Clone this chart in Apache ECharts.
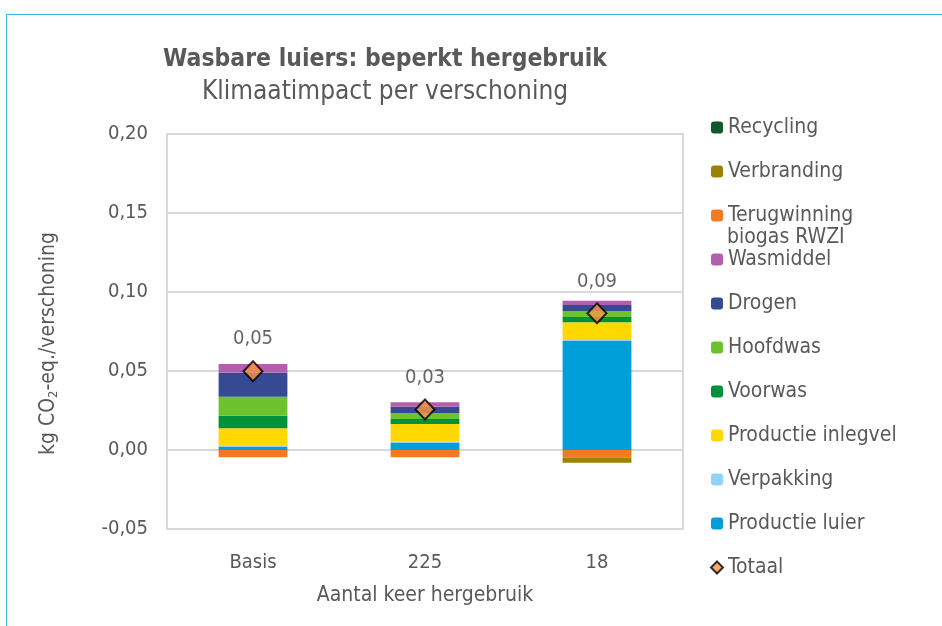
<!DOCTYPE html>
<html>
<head>
<meta charset="utf-8">
<script src="https://cdn.jsdelivr.net/npm/echarts@6/dist/echarts.min.js"></script>
<style>
  html, body { margin: 0; padding: 0; background: #fff; }
  #chart { width: 942px; height: 626px; position: relative; }
  .frame {
    position: absolute; left: 6px; top: 14px; right: 0; bottom: 0;
    border-top: 1.5px solid #3fb2e2; border-left: 1.5px solid #3fb2e2;
    pointer-events: none;
  }
</style>
</head>
<body>
<div id="chart"></div>
<div class="frame"></div>
<script>
// categories (aantal keer hergebruik)
var categories = ['Basis', '225', '18'];

// stacked contributions, kg CO2-eq. per verschoning
var productieLuier = [0.0022, 0.0045, 0.0690];
var verpakking = [0.0005, 0.0008, 0.0006];
var productieInlegvel = [0.0110, 0.0112, 0.0112];
var voorwas = [0.0080, 0.0031, 0.0034];
var hoofdwas = [0.0120, 0.0036, 0.0038];
var drogen = [0.0152, 0.0042, 0.0038];
var wasmiddel = [0.0055, 0.0028, 0.0027];
var terugwinning = [-0.0046, -0.0046, -0.0048];
var verbranding = [0, 0, -0.0032];
var recycling = [0, 0, 0];
var totaal = [0.0498, 0.0256, 0.0865];

var yTicks = { min: -0.05, max: 0.2, interval: 0.05 };

var textColor = '#595959';
var fontFam = '"DejaVu Sans Condensed", "DejaVu Sans", sans-serif';

var chart = echarts.init(document.getElementById('chart'));

function bar(name, data, color) {
  return {
    name: name,
    type: 'bar',
    stack: 'total',
    data: data,
    barWidth: '40%',
    itemStyle: { color: color },
    emphasis: { disabled: true }
  };
}

var option = {
  animation: false,
  textStyle: { fontFamily: fontFam, color: textColor },
  title: {
    text: 'Wasbare luiers: beperkt hergebruik',
    subtext: 'Klimaatimpact per verschoning',
    left: 380,
    textAlign: 'center',
    top: 42,
    itemGap: 7,
    textStyle: { fontFamily: fontFam, fontSize: 24.5, fontWeight: 'bold', color: textColor },
    subtextStyle: { fontFamily: fontFam, fontSize: 26, color: textColor }
  },
  legend: {
    orient: 'vertical',
    left: 705,
    top: 112,
    itemWidth: 12,
    itemHeight: 12,
    itemGap: 23,
    data: ['Recycling', 'Verbranding', 'Terugwinning biogas RWZI', 'Wasmiddel', 'Drogen',
      'Hoofdwas', 'Voorwas', 'Productie inlegvel', 'Verpakking', 'Productie luier', 'Totaal'],
    formatter: function (n) {
      return n === 'Terugwinning biogas RWZI' ? 'Terugwinning' : n;
    },
    textStyle: { fontFamily: fontFam, fontSize: 21, color: textColor, height: 20 }
  },
  // second line of the wrapped legend entry
  graphic: [{
    type: 'text',
    left: 727,
    top: 227,
    style: { text: 'biogas RWZI', font: '21px ' + fontFam, fill: textColor }
  }],
  grid: {
    left: 167, right: 259, top: 134, bottom: 97,
    show: true, borderColor: '#d9d9d9', borderWidth: 2
  },
  xAxis: {
    type: 'category',
    data: categories,
    name: 'Aantal keer hergebruik',
    nameLocation: 'middle',
    nameGap: 56,
    nameTextStyle: { fontFamily: fontFam, fontSize: 21, color: textColor },
    axisLine: { show: false },
    axisTick: { show: false },
    axisLabel: { margin: 24, fontFamily: fontFam, fontSize: 20, color: textColor }
  },
  yAxis: {
    type: 'value',
    min: yTicks.min,
    max: yTicks.max,
    interval: yTicks.interval,
    name: 'kg CO{sub|2}-eq./verschoning',
    nameLocation: 'middle',
    nameGap: 107,
    nameTextStyle: {
      fontFamily: fontFam, fontSize: 21, color: textColor,
      padding: [0, 24, 0, 0],
      rich: { sub: { fontFamily: fontFam, fontSize: 13, color: textColor, verticalAlign: 'bottom', padding: [10, 0, 0, 0] } }
    },
    axisLine: { show: false },
    axisTick: { show: false },
    splitLine: { lineStyle: { color: '#d9d9d9', width: 2 } },
    axisLabel: {
      margin: 19, fontFamily: fontFam, fontSize: 20, color: textColor,
      formatter: function (v) { return v.toFixed(2).replace('.', ','); }
    }
  },
  series: [
    bar('Productie luier', productieLuier, '#009fda'),
    bar('Verpakking', verpakking, '#8fd4f8'),
    bar('Productie inlegvel', productieInlegvel, '#ffd800'),
    bar('Voorwas', voorwas, '#00923a'),
    bar('Hoofdwas', hoofdwas, '#6dc32e'),
    bar('Drogen', drogen, '#354a93'),
    bar('Wasmiddel', wasmiddel, '#b45fad'),
    bar('Terugwinning biogas RWZI', terugwinning, '#f47a20'),
    bar('Verbranding', verbranding, '#9a8300'),
    bar('Recycling', recycling, '#0b5a2a'),
    {
      name: 'Totaal',
      type: 'scatter',
      data: totaal,
      symbol: 'diamond',
      symbolSize: [19, 20],
      itemStyle: { color: '#f79646', borderColor: '#000', borderWidth: 2 },
      label: {
        show: true,
        position: 'top',
        distance: 11,
        fontFamily: fontFam,
        fontSize: 20,
        color: '#404040',
        formatter: function (p) { return p.value.toFixed(2).replace('.', ','); }
      },
      z: 5
    }
  ]
};

chart.setOption(option);
</script>
</body>
</html>
